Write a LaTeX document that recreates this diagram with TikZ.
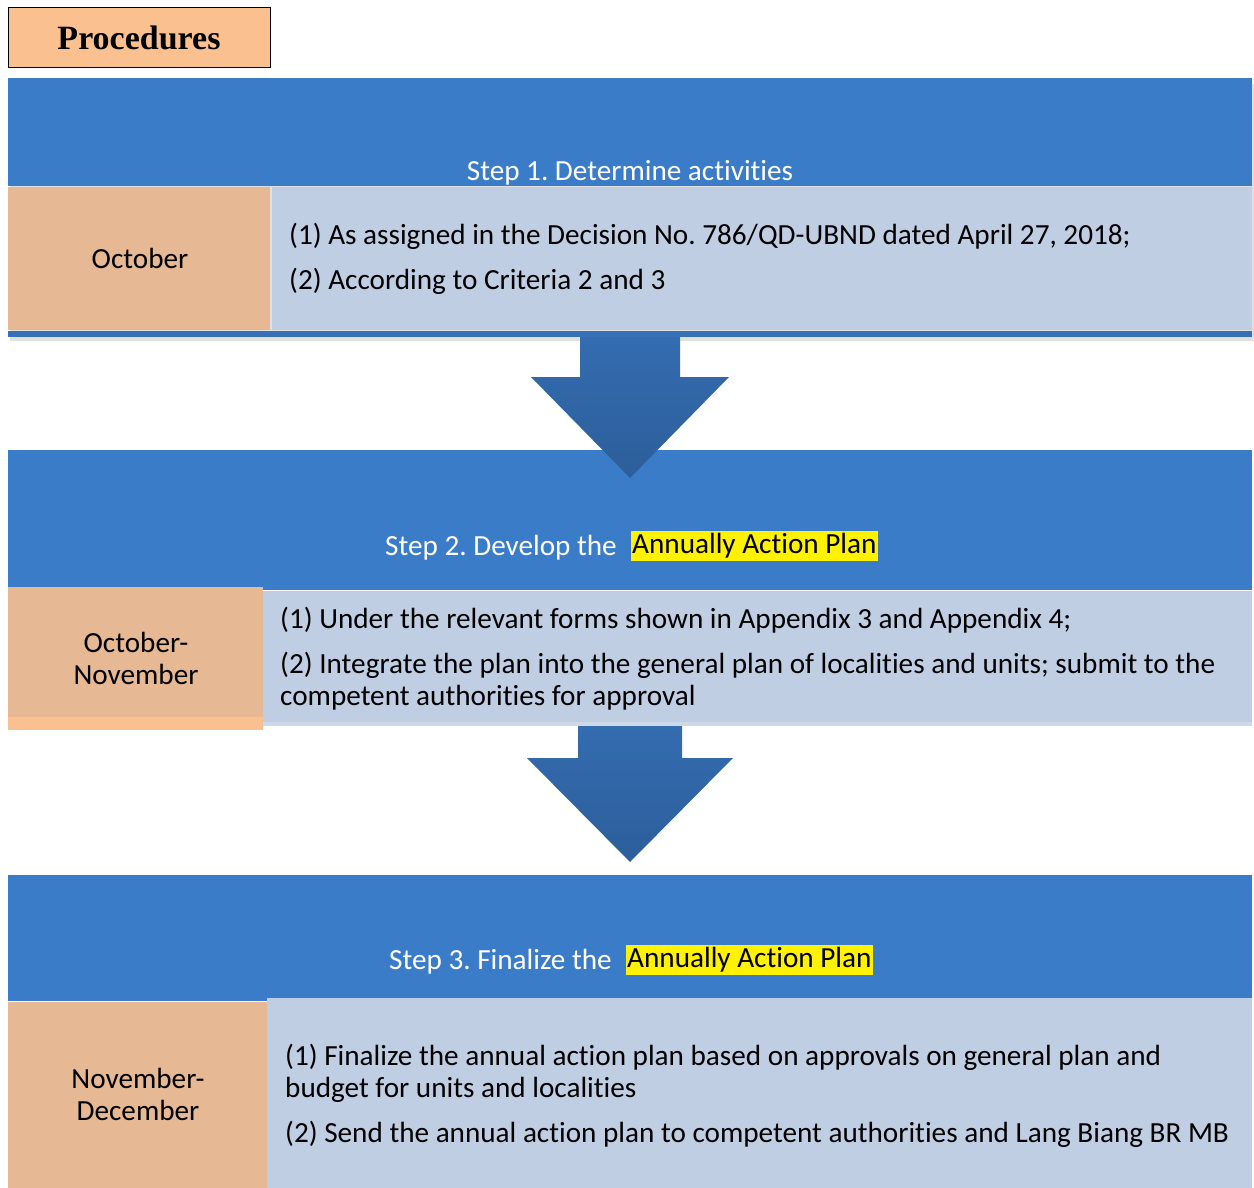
\documentclass[tikz,border=0pt]{standalone}
\usepackage{fontspec}
\setmainfont[Ligatures={NoCommon}]{Carlito}
\newfontfamily\titlefont{Liberation Serif}
\frenchspacing
\definecolor{hdrblue}{RGB}{59,124,201}
\definecolor{arrtop}{RGB}{52,108,176}
\definecolor{arrbot}{RGB}{44,94,154}
\definecolor{titleorange}{RGB}{250,192,143}
\definecolor{cellorange}{RGB}{230,184,148}
\definecolor{celllblue}{RGB}{192,206,228}
\definecolor{stripblue}{RGB}{56,112,184}
\begin{document}
\begin{tikzpicture}[x=1pt,y=-1pt,
  hdr/.style={fill=hdrblue},
  orangecell/.style={fill=cellorange},
  bluecell/.style={fill=celllblue},
  hdrtext/.style={text=white,inner sep=0pt,font=\fontsize{29.2}{32}\selectfont},
  bodytext/.style={inner sep=0pt,align=left,font=\fontsize{29.2}{32}\selectfont},
  celltext/.style={inner sep=0pt,align=center,font=\fontsize{29.2}{32}\selectfont},
  hilite/.style={fill=yellow,inner ysep=3pt,inner xsep=1pt,font=\fontsize{29.2}{32}\selectfont},
  blockarrow/.style={top color=arrtop,bottom color=arrbot,draw=none},
  shadowbox/.style={fill=black!12}
]
\useasboundingbox (0,0) rectangle (1254,1188);
\fill[white] (0,0) rectangle (1254,1188);

% title
\node[draw=black,fill=titleorange,line width=1pt,minimum width=262pt,minimum height=60pt,inner sep=0pt,
  font=\titlefont\bfseries\fontsize{34}{40}\selectfont] (title) at (139,38) {Procedures};

% ---- Step 1 ----
\fill[shadowbox] (10,84) rectangle (1254,341);
\fill[hdr] (8,78) rectangle (1252,186);
\fill[orangecell] (8,187) rectangle (270,330);
\fill[bluecell] (272,187) rectangle (1252,330);
\fill[stripblue] (8,331) rectangle (1252,337);
\node[hdrtext,anchor=base] (s1) at (630,181) {Step 1. Determine activities};
\node[celltext] (m1) at (140,258) {October};
\node[bodytext,anchor=base west] (p11) at (289,244) {(1) As assigned in the Decision No. 786/QD-UBND dated April 27, 2018;};
\node[bodytext,anchor=base west] (p12) at (289,289) {(2) According to Criteria 2 and 3};

% ---- Step 2 ----
\fill[hdr] (8,450) rectangle (1252,590);
\fill[bluecell] (263,591) rectangle (1252,722);
\fill[celllblue!80!white] (263,722) rectangle (1252,726);
\fill[orangecell] (8,587) rectangle (263,717);
\fill[titleorange] (8,717) rectangle (263,730);
\node[hdrtext,anchor=base east] (s2) at (617,555) {Step 2. Develop the};
\node[hilite,anchor=west] (s2h) at (631,546) {Annually Action Plan};
\node[celltext] (m2) at (136,658) {October-\\November};
\node[bodytext,anchor=base west] (p21) at (280,628) {(1) Under the relevant forms shown in Appendix 3 and Appendix 4;};
\node[bodytext,anchor=base west] (p22) at (280,705) {(2) Integrate the plan into the general plan of localities and units; submit to the\\competent authorities for approval};

% arrow 1
\path[blockarrow] (580,337) -- (680,337) -- (680,377) -- (729,377) -- (630,478) -- (531,377) -- (580,377) -- cycle;

% arrow 2
\path[blockarrow] (578,726) -- (682,726) -- (682,758) -- (733,758) -- (630,862) -- (527,758) -- (578,758) -- cycle;

% ---- Step 3 ----
\fill[hdr] (8,875) rectangle (1252,1001);
\fill[orangecell] (8,1002) rectangle (267,1188);
\fill[bluecell] (267,998) rectangle (1252,1188);
\node[hdrtext,anchor=base east] (s3) at (612,969) {Step 3. Finalize the};
\node[hilite,anchor=west] (s3h) at (626,960) {Annually Action Plan};
\node[celltext] (m3) at (138,1094) {November-\\December};
\node[bodytext,anchor=base west] (p31) at (285,1097) {(1) Finalize the annual action plan based on approvals on general plan and\\budget for units and localities};
\node[bodytext,anchor=base west] (p32) at (285,1142) {(2) Send the annual action plan to competent authorities and Lang Biang BR MB};
\end{tikzpicture}
\end{document}
